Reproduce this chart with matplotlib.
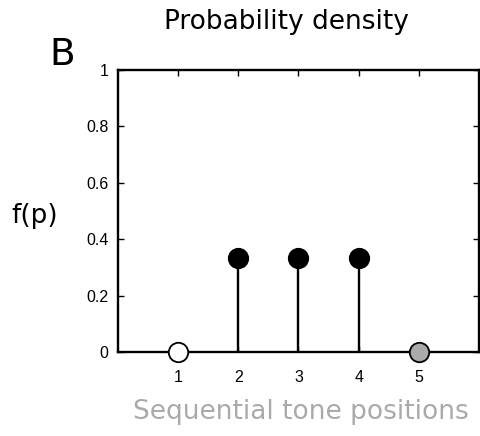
import matplotlib
matplotlib.use("Agg")
import matplotlib.pyplot as plt

positions = [1, 2, 3, 4, 5]
probs = [0.0, 1/3, 1/3, 1/3, 0.0]
face_colors = ["white", "black", "black", "black", "#aaaaaa"]
yticks = [0, 0.2, 0.4, 0.6, 0.8, 1]
ytick_labels = ["0", "0.2", "0.4", "0.6", "0.8", "1"]

W, H = 481, 436
fig = plt.figure(figsize=(W/100, H/100), dpi=100)
ax = fig.add_axes([118/W, 1-352/H, (479-118)/W, (352-70)/H])

for x, y, fc in zip(positions, probs, face_colors):
    if y > 0:
        ax.plot([x, x], [0, y], color="black", lw=1.7, zorder=2)
    ax.plot(x, y, "o", ms=14, mfc=fc, mec="black", mew=1.3, zorder=3, clip_on=False)

ax.set_xlim(0, 6)
ax.set_ylim(0, 1)
ax.set_xticks(positions)
ax.set_yticks(yticks)
ax.set_yticklabels(ytick_labels)
for s in ax.spines.values():
    s.set_linewidth(1.7)
ax.tick_params(direction="in", top=True, right=True, length=4, width=1,
               labelsize=11.5)
ax.tick_params(axis="x", pad=13)
ax.tick_params(axis="y", pad=7)
for lab in ax.get_xticklabels() + ax.get_yticklabels():
    lab.set_family("Liberation Sans")

fig.text(286/W, 1-22/H, "Probability density", ha="center", va="center", fontsize=19)
fig.text(62/W, 1-55/H, "B", ha="center", va="center", fontsize=27)
fig.text(35/W, 1-216/H, "f(p)", ha="center", va="center", fontsize=19)
fig.text(301/W, 1-412/H, "Sequential tone positions", ha="center", va="center",
         fontsize=19, color="#aaaaaa")

fig.savefig("out.png", dpi=100)
